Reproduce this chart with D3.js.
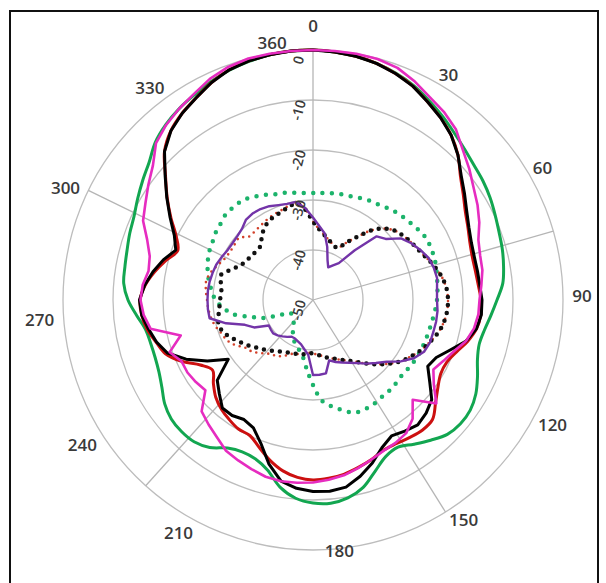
<!DOCTYPE html>
<html>
<head>
<meta charset="utf-8">
<script src="https://cdn.jsdelivr.net/npm/d3@7"></script>
<style>
  html, body { margin: 0; padding: 0; background: #fff; }
  svg { display: block; }
  .tick { font-family: "Open Sans", sans-serif; font-weight: 600; fill: #3a3a3a; }
</style>
</head>
<body>
<svg id="chart" width="606" height="583"></svg>
<script>
(function() {
  'use strict';

  // angles (degrees, clockwise from top), one sample every 5 degrees
  var angles = d3.range(0, 360, 5);

  // gain in dB, one value per angle
  var blackSolid = [0, -0.2, -0.5, -1.0, -1.8, -2.8, -4.2, -5.5, -7, -9, -11.3, -13, -14.5, -15.6, -16.3, -16.6, -16.6, -16.5,
    -16.2, -16.2, -16.8, -18.3, -20.8, -22.8, -23.5, -21.5, -19, -18, -17.4, -18, -18.6, -17.4, -15.3, -13.5, -12, -11.6,
    -11.7, -12.2, -13.2, -16, -19.5, -21.8, -22.4, -21.8, -21.8, -23.5, -25, -29.3, -25.6, -22, -19, -17.6, -16.6, -15.6,
    -15.3, -16.2, -17.5, -19, -20.8, -19.4, -17, -14.3, -11.4, -8, -5.8, -4.4, -3.3, -2.0, -1.0, -0.5, -0.2, 0];
  var redSolid = [0, -0.2, -0.5, -1.0, -1.8, -2.8, -4.2, -5.5, -7, -9, -11.5, -13.3, -14.8, -15.8, -16.6, -17, -17, -16.8,
    -16.4, -16.3, -16.8, -18, -19.5, -20.5, -20.5, -19.5, -18, -16.2, -16, -16.4, -16.8, -16.8, -16, -15.3, -14.6, -14.2,
    -14, -14.4, -15.3, -16.8, -18.6, -20.1, -20.2, -20.8, -21.5, -22.5, -24, -25.5, -24, -21, -18.6, -17.5, -16.3, -15.6,
    -15.4, -16.3, -17.8, -19.5, -21.2, -19.8, -17.2, -14.4, -11.5, -8, -5.8, -4.4, -3.3, -2.0, -1.0, -0.5, -0.2, 0];
  var greenSolid = [0, -0.2, -0.5, -1.0, -1.7, -2.6, -3.8, -5, -6.2, -7.2, -8, -8.5, -9.1, -9.8, -10.4, -10.8, -11.3, -11.9,
    -13.2, -14.3, -15.2, -15.6, -15, -13.7, -12.4, -11.6, -11.5, -12, -13.4, -14.8, -16, -15.5, -13.6, -11.2, -9.8, -9.2,
    -9.4, -10.2, -12, -14.8, -16.2, -16.5, -15.8, -14, -13, -12.8, -13, -13.8, -15.1, -16, -16.4, -16.4, -16, -14.6,
    -13, -12, -11.8, -11.5, -11, -10.5, -9.5, -8.4, -7.2, -5.4, -4.2, -3.3, -2.6, -1.8, -1.1, -0.6, -0.2, 0];
  var magentaSolid = [0, 0, 0, -0.1, -0.6, -1.8, -3.2, -4.2, -5.5, -7.6, -9.2, -10.8, -12, -13.3, -14.8, -15.4, -15.6, -16.2,
    -16.7, -16.8, -17.3, -18.3, -20, -21.2, -22.2, -20.5, -17.8, -21.8, -19, -17.5, -17, -16.7, -16, -15.2, -14.4, -13.9,
    -13.5, -13.3, -13.2, -13.4, -14, -14.6, -15.2, -16.5, -17.5, -18.5, -21.9, -21.4, -21, -21, -19.5, -22.6, -17, -16,
    -15.5, -15.8, -16.6, -16.2, -14.7, -12.5, -11.3, -9.8, -8.2, -5.6, -4.3, -3.3, -2.4, -1.2, -0.4, 0, 0, 0];
  var greenDotted = [-28.6, -28.5, -28.3, -28.1, -27.9, -27.5, -27.1, -26.8, -26.2, -25.7, -25.3, -24.8, -24.3, -24.2, -24.3,
    -24.5, -24.8, -25, -25.2, -25.5, -25.8, -26, -26.1, -26.2, -26.3, -26.5, -26.7, -26.5, -26.3, -26.2, -25.9, -25.8, -26,
    -27.2, -28.4, -29.8, -33, -36, -38.4, -39.5, -40.5, -41, -42, -43, -44, -44.3, -44.5, -44.8, -44.8, -43, -39.5, -37,
    -33.8, -32, -30.5, -29.7, -28.9, -28.2, -27.6, -27.1, -26.8, -26.3, -26, -25.5, -25.6, -25.6, -26.2, -26.8, -27.5,
    -27.8, -28.2, -28.5];
  var blackDotted = [-34.3, -35.8, -36.8, -37.6, -38.2, -38.5, -36.8, -34.6, -31.8, -29.8, -28.5, -27.8, -27.2, -26.6, -25.7,
    -24.7, -23.8, -23.2, -23, -23.1, -23.5, -24.2, -25.2, -26.2, -27.4, -28.6, -30.2, -31.8, -33.4, -34.9, -36, -36.8,
    -37.5, -38, -38.6, -39, -39.3, -39.4, -39, -38.8, -38.6, -38.4, -38, -37.5, -36.8, -36, -35.2, -34.2, -33.2, -32.1,
    -31, -30.5, -30.8, -31.2, -31.4, -31.6, -31.3, -30.9, -32.4, -33.8, -34.5, -34.8, -35, -35, -34, -32.8, -32, -31.6,
    -31.3, -30.8, -30.4, -31.8];
  var redDotted = [-34.3, -35.8, -36.8, -37.6, -38.2, -38.5, -36.8, -34.6, -31.8, -29.8, -28.5, -27.8, -27.2, -26.6, -25.7,
    -24.7, -23.8, -23.2, -23, -23.1, -23.5, -24.2, -25.2, -26.2, -27.4, -28.6, -30.2, -31.8, -33.4, -34.9, -36, -36.8,
    -37.5, -38, -38.6, -39, -39.3, -39.4, -39, -38.8, -38.6, -37.8, -37, -36.5, -36, -35, -34, -33.4, -32, -31, -30.5,
    -29.8, -29.3, -29, -28.8, -28.5, -28.3, -28.8, -29.7, -30.5, -30.8, -30.8, -30.7, -32, -32, -31.8, -31.5, -31.2,
    -31, -30.6, -30.4, -31.8];
  var purpleSolid = [-33.5, -35.2, -36.5, -39, -41.5, -42.8, -42, -41, -37, -32, -31, -28.5, -27.3, -26.3, -25.4, -25, -24.8,
    -25.1, -25.2, -25, -25, -25.1, -25.1, -25.5, -26.7, -28.6, -30.8, -32.2, -33.4, -34.6, -35.5, -36.2, -36.8, -37.5,
    -35.1, -35, -35, -39, -40, -40.8, -41.2, -41.5, -41.5, -41, -40.5, -40, -39.6, -39.7, -39.8, -37, -35.5, -32,
    -29, -28.9, -28.9, -28.9, -29, -29.2, -29.4, -29.8, -30.2, -30.3, -30.2, -29.9, -29.1, -28.9, -29, -29.3, -29.8,
    -30.1, -30.1, -31.5];

  // ring values and angle tick labels
  var ringValues = [-50, -40, -30, -20, -10, 0];
  var ringLabels = ["-50", "-40", "-30", "-20", "-10", "0"];
  var spokeAngles = [0, 74, 148, 222, 296];
  var angleLabels = ["0", "30", "60", "90", "120", "150", "180", "210", "240", "270", "300", "330", "360"];
  // where each angle label sits on the page (degrees)
  var angleLabelAt = [0, 31, 60, 89, 117.5, 145.5, 174, 210, 238, 266, 294.5, 322.5, 351];
  var angleLabelR = [275, 263, 265, 269, 270, 266, 252, 269, 272, 274, 272, 268, 261];

  var series = [
    { name: "green solid", values: greenSolid, color: "#12a650", width: 3, dash: null, curve: d3.curveCatmullRomClosed },
    { name: "red solid", values: redSolid, color: "#cc1010", width: 3, dash: null, curve: d3.curveCatmullRomClosed },
    { name: "black solid", values: blackSolid, color: "#000000", width: 3, dash: null, curve: d3.curveLinearClosed },
    { name: "magenta solid", values: magentaSolid, color: "#e62cc0", width: 2.6, dash: null, curve: d3.curveLinearClosed },
    { name: "green dotted", values: greenDotted, color: "#1cb36b", width: 4.5, dash: "0 9.5", curve: d3.curveCatmullRomClosed },
    { name: "red dotted", values: redDotted, color: "#d2402a", width: 2.6, dash: "0 6", curve: d3.curveCatmullRomClosed },
    { name: "black dotted", values: blackDotted, color: "#111111", width: 4.5, dash: "0 8", curve: d3.curveCatmullRomClosed },
    { name: "purple solid", values: purpleSolid, color: "#7334a8", width: 2.4, dash: null, curve: d3.curveLinearClosed }
  ];

  var svg = d3.select("#chart");
  var cx = 313, cy = 300, outer = 250;

  svg.append("rect")
    .attr("x", 10).attr("y", 11)
    .attr("width", 588).attr("height", 590)
    .attr("fill", "none")
    .attr("stroke", "#111")
    .attr("stroke-width", 2);

  var r = d3.scaleLinear().domain([-50, 0]).range([0, outer]);
  var rad = function(deg) { return deg * Math.PI / 180; };

  var g = svg.append("g").attr("transform", "translate(" + cx + "," + cy + ")");

  // grid rings
  g.selectAll("circle.ring")
    .data(ringValues.slice(1))
    .enter().append("circle")
    .attr("class", "ring")
    .attr("r", function(d) { return r(d); })
    .attr("fill", "none")
    .attr("stroke", "#bdbdbd")
    .attr("stroke-width", 1.3);

  // spokes
  g.selectAll("line.spoke")
    .data(spokeAngles)
    .enter().append("line")
    .attr("class", "spoke")
    .attr("x1", 0).attr("y1", 0)
    .attr("x2", function(d) { return Math.sin(rad(d)) * outer; })
    .attr("y2", function(d) { return -Math.cos(rad(d)) * outer; })
    .attr("stroke", "#b5b5b5")
    .attr("stroke-width", 1.3);

  // data curves
  series.forEach(function(s) {
    var line = d3.lineRadial()
      .angle(function(d, i) { return rad(angles[i]); })
      .radius(function(d) { return r(d); })
      .curve(s.curve);
    var p = g.append("path")
      .datum(s.values)
      .attr("d", line)
      .attr("fill", "none")
      .attr("stroke", s.color)
      .attr("stroke-width", s.width)
      .attr("stroke-linejoin", "round");
    if (s.dash) {
      p.attr("stroke-dasharray", s.dash).attr("stroke-linecap", "round");
    }
  });

  // radial tick labels, rotated along the 0 degree axis
  g.selectAll("text.rtick")
    .data(ringValues)
    .enter().append("text")
    .attr("class", "tick")
    .attr("font-size", 14)
    .attr("text-anchor", "middle")
    .attr("dominant-baseline", "central")
    .attr("transform", function(d) {
      return "translate(" + (-15) + "," + (-r(d) + 10) + ") rotate(-75)";
    })
    .text(function(d, i) { return ringLabels[i]; });

  // angle labels
  g.selectAll("text.atick")
    .data(angleLabels)
    .enter().append("text")
    .attr("class", "tick")
    .attr("font-size", 17)
    .attr("text-anchor", "middle")
    .attr("dominant-baseline", "central")
    .attr("x", function(d, i) { return Math.sin(rad(angleLabelAt[i])) * angleLabelR[i]; })
    .attr("y", function(d, i) { return -Math.cos(rad(angleLabelAt[i])) * angleLabelR[i]; })
    .text(function(d) { return d; });
}());
</script>
</body>
</html>
